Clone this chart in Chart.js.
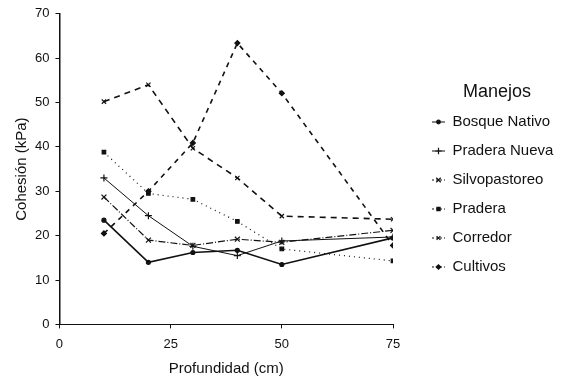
<!DOCTYPE html>
<html>
<head>
<meta charset="utf-8">
<script src="https://cdn.jsdelivr.net/npm/chart.js@4.4.0/dist/chart.umd.min.js"></script>
<style>
  html, body { margin: 0; padding: 0; background: #fff; }
  #wrap { width: 567px; height: 380px; }
</style>
</head>
<body>
<div id="wrap"><canvas id="chart" width="567" height="380"></canvas></div>
<script>
// profundidad (cm)
let depths = [10, 20, 30, 40, 50, 75];

// cohesion (kPa) por manejo
let bosqueNativo  = [23.5, 14, 16.2, 16.7, 13.5, 19.5];
let praderaNueva  = [33, 24.5, 17.6, 15.5, 18.8, 19.7];
let silvopastoreo = [28.7, 19, 17.8, 19.2, 18.5, 21.2];
let pradera       = [38.8, 29.5, 28.2, 23.2, 17, 14.3];
let corredor      = [50.2, 54, 39.7, 33, 24.4, 23.7];
let cultivos      = [20.5, 30, 40.9, 63.4, 52.1, 17.8];

let names = ['Bosque Nativo', 'Pradera Nueva', 'Silvopastoreo', 'Pradera', 'Corredor', 'Cultivos'];
let xTicks = [0, 25, 50, 75];
let legendTitle = 'Manejos';

let ink = '#111';
let fontFam = '"Liberation Sans", Arial, sans-serif';

function pts(arr) {
    return arr.map((v, i) => ({ x: depths[i], y: v }));
}

// estilos de cada serie
let styles = [
    { dash: [], width: 1.6, point: 'circle', r: 2 },
    { dash: [], width: 1, point: 'cross', r: 3.5 },
    { dash: [7, 2, 1, 2], width: 1.2, point: 'crossRot', r: 3.5 },
    { dash: [1, 4], width: 1.2, point: 'rect', r: 2.5 },
    { dash: [6, 5], width: 1.6, point: 'crossRot', r: 3 },
    { dash: [5, 5], width: 1.6, point: 'rectRot', r: 2.5 }
];

let series = [bosqueNativo, praderaNueva, silvopastoreo, pradera, corredor, cultivos];

// muestra de linea + marcador para la leyenda (a la derecha del canvas)
function legendSample(st) {
    let c = document.createElement('canvas');
    c.width = 38; c.height = 12;
    let g = c.getContext('2d');
    g.strokeStyle = ink;
    g.fillStyle = ink;
    g.lineWidth = 1;
    g.setLineDash(st.dash.length ? [2, 2] : []);
    g.beginPath(); g.moveTo(25, 6); g.lineTo(38, 6); g.stroke();
    g.setLineDash([]);
    g.lineWidth = 1.2;
    Chart.helpers.drawPoint(g, { pointStyle: st.point, radius: st.r * 0.9, borderWidth: 1.2 }, 31.5, 6);
    return c;
}

let datasets = series.map((s, i) => ({
    label: names[i],
    data: pts(s),
    borderColor: ink,
    backgroundColor: ink,
    borderWidth: styles[i].width,
    borderDash: styles[i].dash,
    pointStyle: styles[i].point,
    pointRadius: styles[i].r,
    pointBorderWidth: 1.2,
    pointBorderColor: ink,
    pointBackgroundColor: ink,
    tension: 0,
    fill: false
}));

Chart.defaults.font.family = fontFam;
Chart.defaults.color = ink;

// ancho fijo de la leyenda para que el area del grafico termine en x=393
let legendWidthFix = {
    id: 'legendWidthFix',
    beforeInit(chart) {
        let origFit = chart.legend.fit;
        chart.legend.fit = function() {
            origFit.call(this);
            this.width = 174;
        };
    }
};

// titulo de la leyenda
let legendTitlePlugin = {
    id: 'legendTitlePlugin',
    afterDraw(chart) {
        let c = chart.ctx;
        c.save();
        c.font = '18px ' + fontFam;
        c.fillStyle = ink;
        c.textAlign = 'center';
        c.textBaseline = 'middle';
        c.fillText(legendTitle, 497, 92);
        c.restore();
    }
};

let ctx = document.getElementById('chart').getContext('2d');

let myChart = new Chart(ctx, {
    type: 'line',
    data: { datasets: datasets },
    plugins: [legendWidthFix, legendTitlePlugin],
    options: {
        responsive: false,
        animation: false,
        layout: { padding: { top: 11, right: 0, bottom: 2, left: 10 } },
        plugins: {
            tooltip: { enabled: false },
            legend: {
                position: 'right',
                align: 'center',
                labels: {
                    usePointStyle: true,
                    pointStyleWidth: 38,
                    boxHeight: 15,
                    padding: 14,
                    font: { size: 15 },
                    generateLabels: function(chart) {
                        return chart.data.datasets.map((d, i) => ({
                            text: d.label,
                            pointStyle: legendSample(styles[i]),
                            fontColor: ink,
                            lineWidth: 0,
                            datasetIndex: i
                        }));
                    }
                }
            }
        },
        scales: {
            x: {
                type: 'linear',
                min: 0,
                max: 75,
                afterBuildTicks: function(axis) {
                    axis.ticks = xTicks.map(v => ({ value: v }));
                },
                grid: { display: true, drawOnChartArea: false, color: ink, tickLength: 4 },
                border: { color: ink, width: 1 },
                ticks: { font: { size: 13 }, padding: 8, maxRotation: 0 },
                title: {
                    display: true,
                    text: 'Profundidad (cm)',
                    font: { size: 15 },
                    padding: { top: 0, bottom: 0 }
                }
            },
            y: {
                min: 0,
                max: 70,
                ticks: { stepSize: 10, font: { size: 13 }, padding: 6 },
                grid: { display: true, drawOnChartArea: false, color: ink, tickLength: 4 },
                border: { color: ink, width: 1.5 },
                title: {
                    display: true,
                    text: 'Cohesión (kPa)',
                    font: { size: 15, lineHeight: 1 },
                    padding: { top: 4, bottom: 0 }
                }
            }
        }
    }
});
</script>
</body>
</html>
